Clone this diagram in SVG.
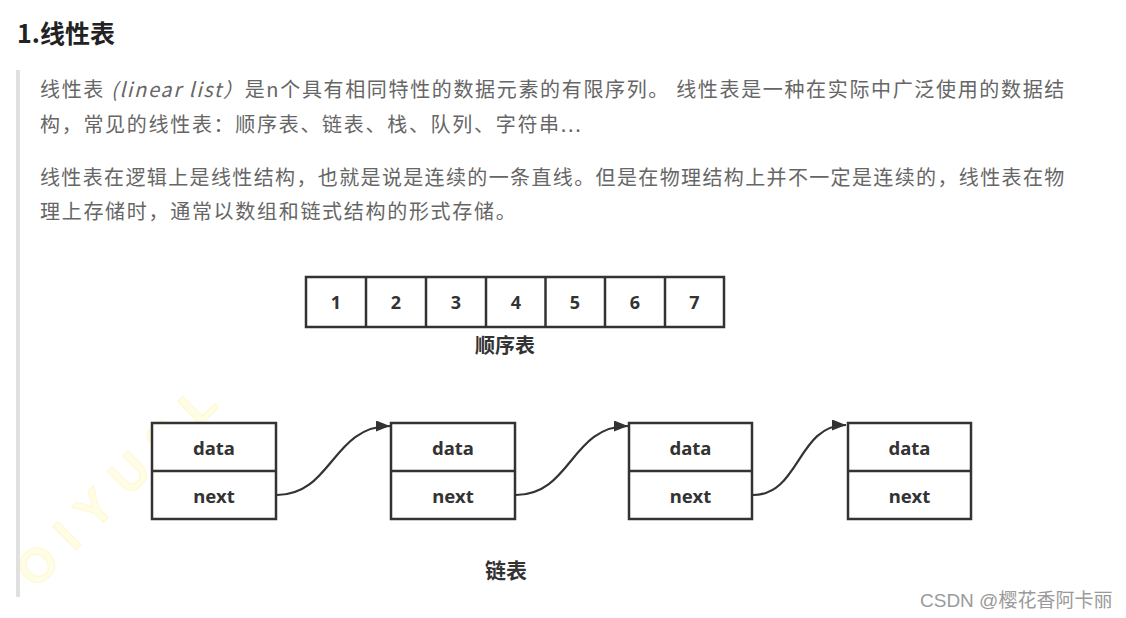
<svg xmlns="http://www.w3.org/2000/svg" width="1126" height="618" viewBox="0 0 1126 618">
<style>
.title{font-family:"Noto Sans CJK SC","Noto Sans",sans-serif;font-weight:bold;font-size:25px;fill:#222}
.para{font-family:"Noto Sans CJK SC","Noto Sans",sans-serif;font-size:20px;fill:#666;letter-spacing:1.7px}
.box{fill:#fff;stroke:#333;stroke-width:2.5}
.line{fill:none;stroke:#333;stroke-width:2.5}
.num{font-family:"Noto Sans","Noto Sans CJK SC",sans-serif;font-weight:bold;font-size:18px;fill:#333;text-anchor:middle}
.lbl{font-family:"Noto Sans","Noto Sans CJK SC",sans-serif;font-weight:bold;font-size:18.5px;fill:#333;text-anchor:middle}
.cap{font-family:"Noto Sans CJK SC",sans-serif;font-weight:bold;font-size:20px;fill:#333;text-anchor:middle}
.conn{fill:none;stroke:#333;stroke-width:2.2}
.wm{font-family:"Liberation Sans","Noto Sans CJK SC",sans-serif;font-size:19px;fill:#9a9a9a}
.wm2{font-family:"Liberation Sans",sans-serif;font-weight:bold;font-size:48px;fill:#fffde6;stroke:#fff8cc;stroke-width:0.8}
</style>
<defs>
<marker id="arr" markerUnits="userSpaceOnUse" markerWidth="15" markerHeight="11" refX="14" refY="5.5" orient="auto">
<path d="M0,0 L14,5.5 L0,11 z" fill="#333"/>
</marker>
</defs>
<rect x="0" y="0" width="1126" height="618" fill="#fff"/>
<text class="wm2" transform="translate(36,590) rotate(-45)" textLength="260" lengthAdjust="spacing">OIYUSL</text>
<rect x="16" y="70" width="4" height="527" fill="#e0e0e0"/>
<text class="title" x="17" y="43">1.线性表</text>
<text class="para" x="40" y="97" textLength="1026" lengthAdjust="spacing">线性表 <tspan font-style="italic">(linear list）</tspan>是n个具有相同特性的数据元素的有限序列。 线性表是一种在实际中广泛使用的数据结</text>
<text class="para" x="40" y="132">构，常见的线性表：顺序表、链表、栈、队列、字符串...</text>
<text class="para" x="40" y="185" textLength="1026" lengthAdjust="spacing">线性表在逻辑上是线性结构，也就是说是连续的一条直线。但是在物理结构上并不一定是连续的，线性表在物</text>
<text class="para" x="40" y="219">理上存储时，通常以数组和链式结构的形式存储。</text>
<g id="seqlist">
<rect class="box" x="306" y="277" width="418" height="50"/>
<line class="line" x1="366" y1="277" x2="366" y2="327"/>
<line class="line" x1="426" y1="277" x2="426" y2="327"/>
<line class="line" x1="486" y1="277" x2="486" y2="327"/>
<line class="line" x1="545.5" y1="277" x2="545.5" y2="327"/>
<line class="line" x1="605" y1="277" x2="605" y2="327"/>
<line class="line" x1="665" y1="277" x2="665" y2="327"/>
<text class="num" x="336" y="309">1</text>
<text class="num" x="396" y="309">2</text>
<text class="num" x="456" y="309">3</text>
<text class="num" x="516" y="309">4</text>
<text class="num" x="575" y="309">5</text>
<text class="num" x="635" y="309">6</text>
<text class="num" x="694.5" y="309">7</text>
</g>
<text class="cap" x="505" y="353">顺序表</text>
<g id="node1">
<rect class="box" x="152" y="423" width="124" height="96"/>
<line class="line" x1="152" y1="471" x2="276" y2="471"/>
<text class="lbl" x="214" y="455">data</text>
<text class="lbl" x="214" y="503">next</text>
</g>
<g id="node2">
<rect class="box" x="391" y="423" width="124" height="96"/>
<line class="line" x1="391" y1="471" x2="515" y2="471"/>
<text class="lbl" x="453" y="455">data</text>
<text class="lbl" x="453" y="503">next</text>
</g>
<g id="node3">
<rect class="box" x="629" y="423" width="123" height="96"/>
<line class="line" x1="629" y1="471" x2="752" y2="471"/>
<text class="lbl" x="690.5" y="455">data</text>
<text class="lbl" x="690.5" y="503">next</text>
</g>
<g id="node4">
<rect class="box" x="848" y="423" width="123" height="96"/>
<line class="line" x1="848" y1="471" x2="971" y2="471"/>
<text class="lbl" x="909.5" y="455">data</text>
<text class="lbl" x="909.5" y="503">next</text>
</g>
<g id="connectors">
<path class="conn" d="M277,495 C332,495 332,426 390,426" marker-end="url(#arr)"/>
<path class="conn" d="M516,495 C571,495 571,426 628,426" marker-end="url(#arr)"/>
<path class="conn" d="M753,495 C800,495 797,425 846,425" marker-end="url(#arr)"/>
</g>
<text class="cap" x="506" y="578" style="font-size:21px">链表</text>
<text class="wm" x="920" y="607">CSDN @樱花香阿卡丽</text>
</svg>
